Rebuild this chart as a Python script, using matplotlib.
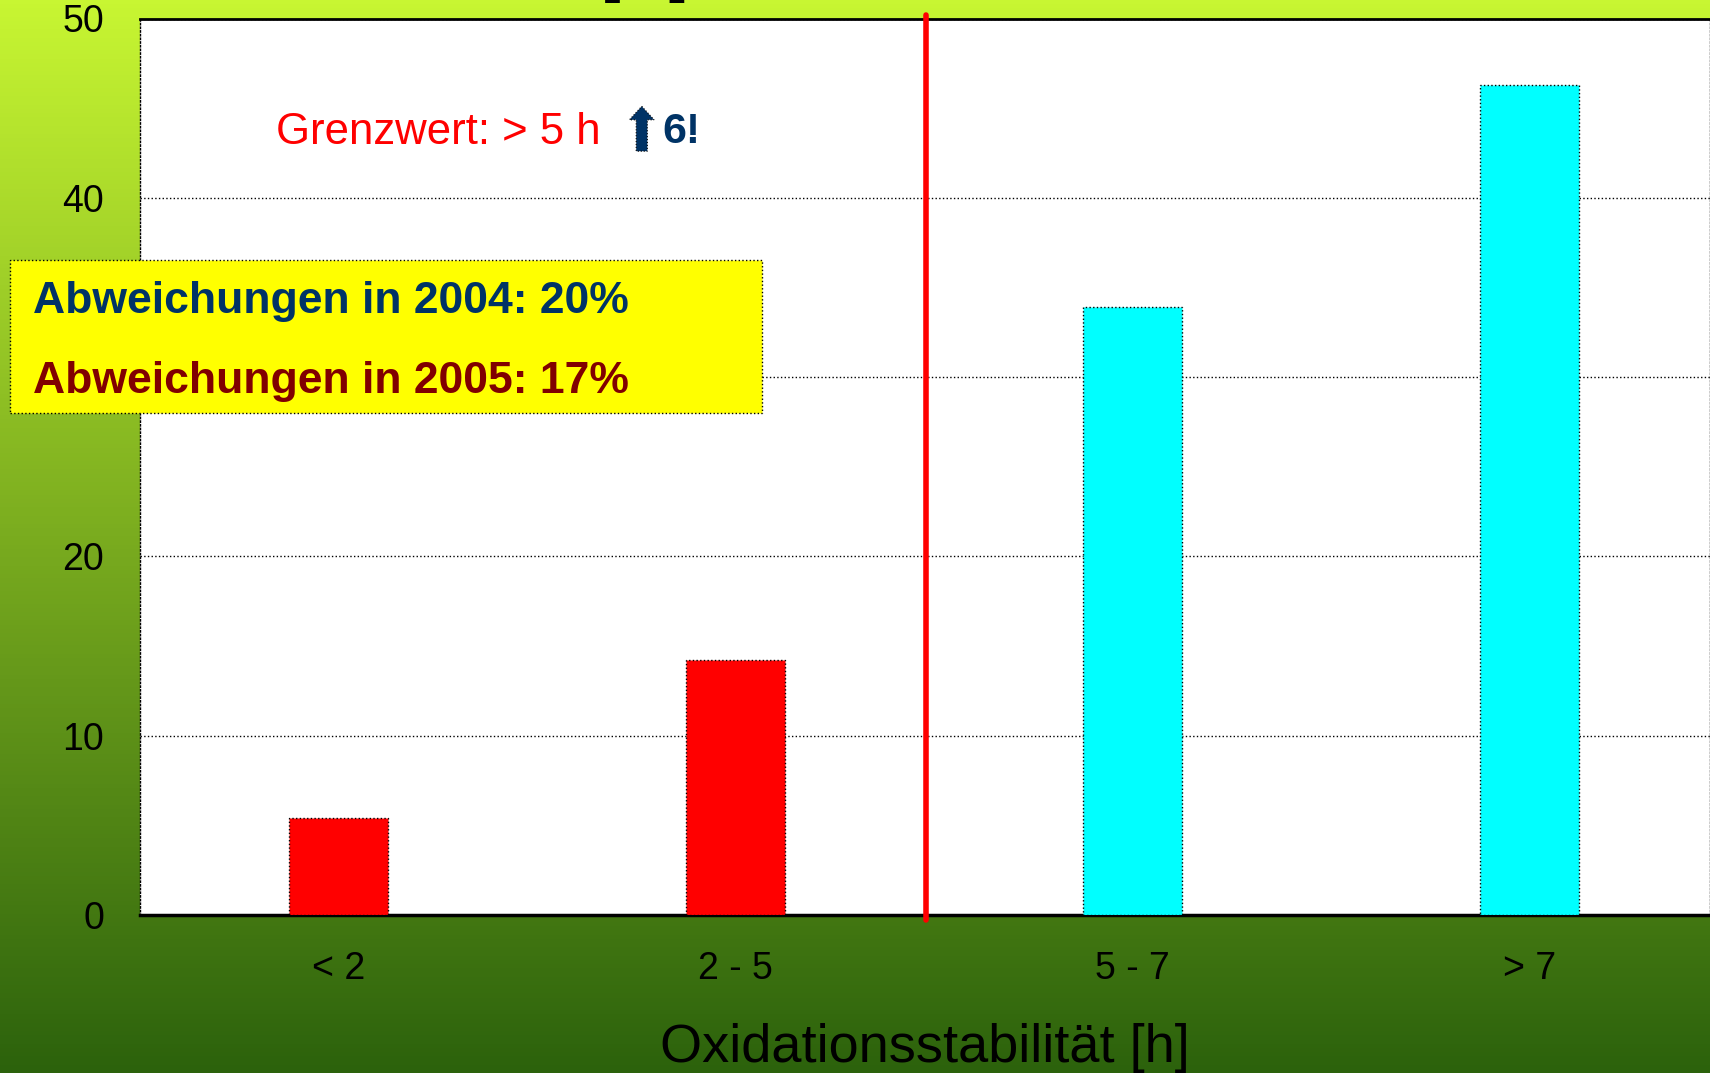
import numpy as np
from matplotlib import pyplot as plt
from matplotlib.patches import Rectangle, FancyArrow

categories = ["< 2", "2 - 5", "5 - 7", "> 7"]
shares = [5.4, 14.2, 33.9, 46.3]
bar_colors = ["#ff0000", "#ff0000", "#00ffff", "#00ffff"]
limit_pos = 1.48
y_ticks = [0, 10, 20, 30, 40, 50]

W, H = 1710, 1073
plt.rcParams["font.family"] = ["Liberation Sans", "DejaVu Sans"]

fig = plt.figure(figsize=(W / 100, H / 100), dpi=100)


def fx(px):
    return px / W


def fy(py):
    return 1 - py / H


# green gradient background ---------
bg = fig.add_axes([0, 0, 1, 1], zorder=-10)
top = np.array([200, 246, 50]) / 255
bottom = np.array([44, 98, 12]) / 255
t = np.linspace(0, 1, 256)[:, None]
grad = top * (1 - t) + bottom * t
bg.imshow(grad[:, None, :], aspect="auto", extent=[0, 1, 0, 1])
bg.axis("off")

# main chart -------------
ax = fig.add_axes([fx(140), 1 - 915 / H, fx(1710 - 140), (915 - 18.5) / H])
ax.set_facecolor("white")
x = np.arange(len(categories))
ax.bar(x, shares, width=0.25, color=bar_colors, edgecolor="black",
       linewidth=1, linestyle=":", zorder=3)
ax.set_xlim(-0.5, 3.455)
ax.set_ylim(0, 50)
ax.set_yticks(y_ticks)
ax.set_xticks(x)
ax.set_xticklabels(categories)
ax.tick_params(axis="both", length=0, labelsize=27, pad=26)
for lbl in ax.get_yticklabels():
    lbl.set_y(lbl.get_position()[1])
    lbl.set_va("center_baseline")
ax.yaxis.grid(True, color="black", linestyle=":", linewidth=1)
ax.set_axisbelow(True)
for side in ["left", "right"]:
    ax.spines[side].set_linestyle(":")
    ax.spines[side].set_linewidth(1)
ax.spines["top"].set_linewidth(2)
ax.spines["bottom"].set_linewidth(2.5)
ax.set_xlabel("Oxidationsstabilität [h]", fontsize=39, labelpad=26)

ax.plot([limit_pos, limit_pos], [-0.3, 50.2], color="#ff0000", linewidth=4,
        solid_capstyle="round", clip_on=False, zorder=4)

ax.text(fx(276), fy(132), "Grenzwert: > 5 h", color="#ff0000", fontsize=31.5,
        va="center", ha="left", transform=fig.transFigure)
ax.add_patch(FancyArrow(0.764, 42.6, 0, 2.5, width=0.028, head_width=0.062,
                        head_length=0.75, length_includes_head=True,
                        facecolor="#003366", edgecolor="black", linewidth=0.8,
                        linestyle=":", zorder=5))
ax.text(fx(662), fy(132), "6!", color="#003366", fontsize=31,
        fontweight="bold", va="center", ha="left", transform=fig.transFigure)

# yellow info box --------
box = Rectangle((fx(10), fy(413)), fx(752), 153 / H, transform=fig.transFigure,
                facecolor="#ffff00", edgecolor="black", linewidth=1,
                linestyle=":", zorder=5)
fig.add_artist(box)
fig.text(fx(33), fy(301), "Abweichungen in 2004: 20%", color="#003366",
         fontsize=32, fontweight="bold", va="center", zorder=6)
fig.text(fx(33), fy(381), "Abweichungen in 2005: 17%", color="#800000",
         fontsize=32, fontweight="bold", va="center", zorder=6)

# cut off title remnant
fig.text(fx(645), 1 + 9 / H, "[%]", fontsize=40, fontweight="bold",
         ha="center", va="baseline")

fig.savefig("out.png", dpi=100)
